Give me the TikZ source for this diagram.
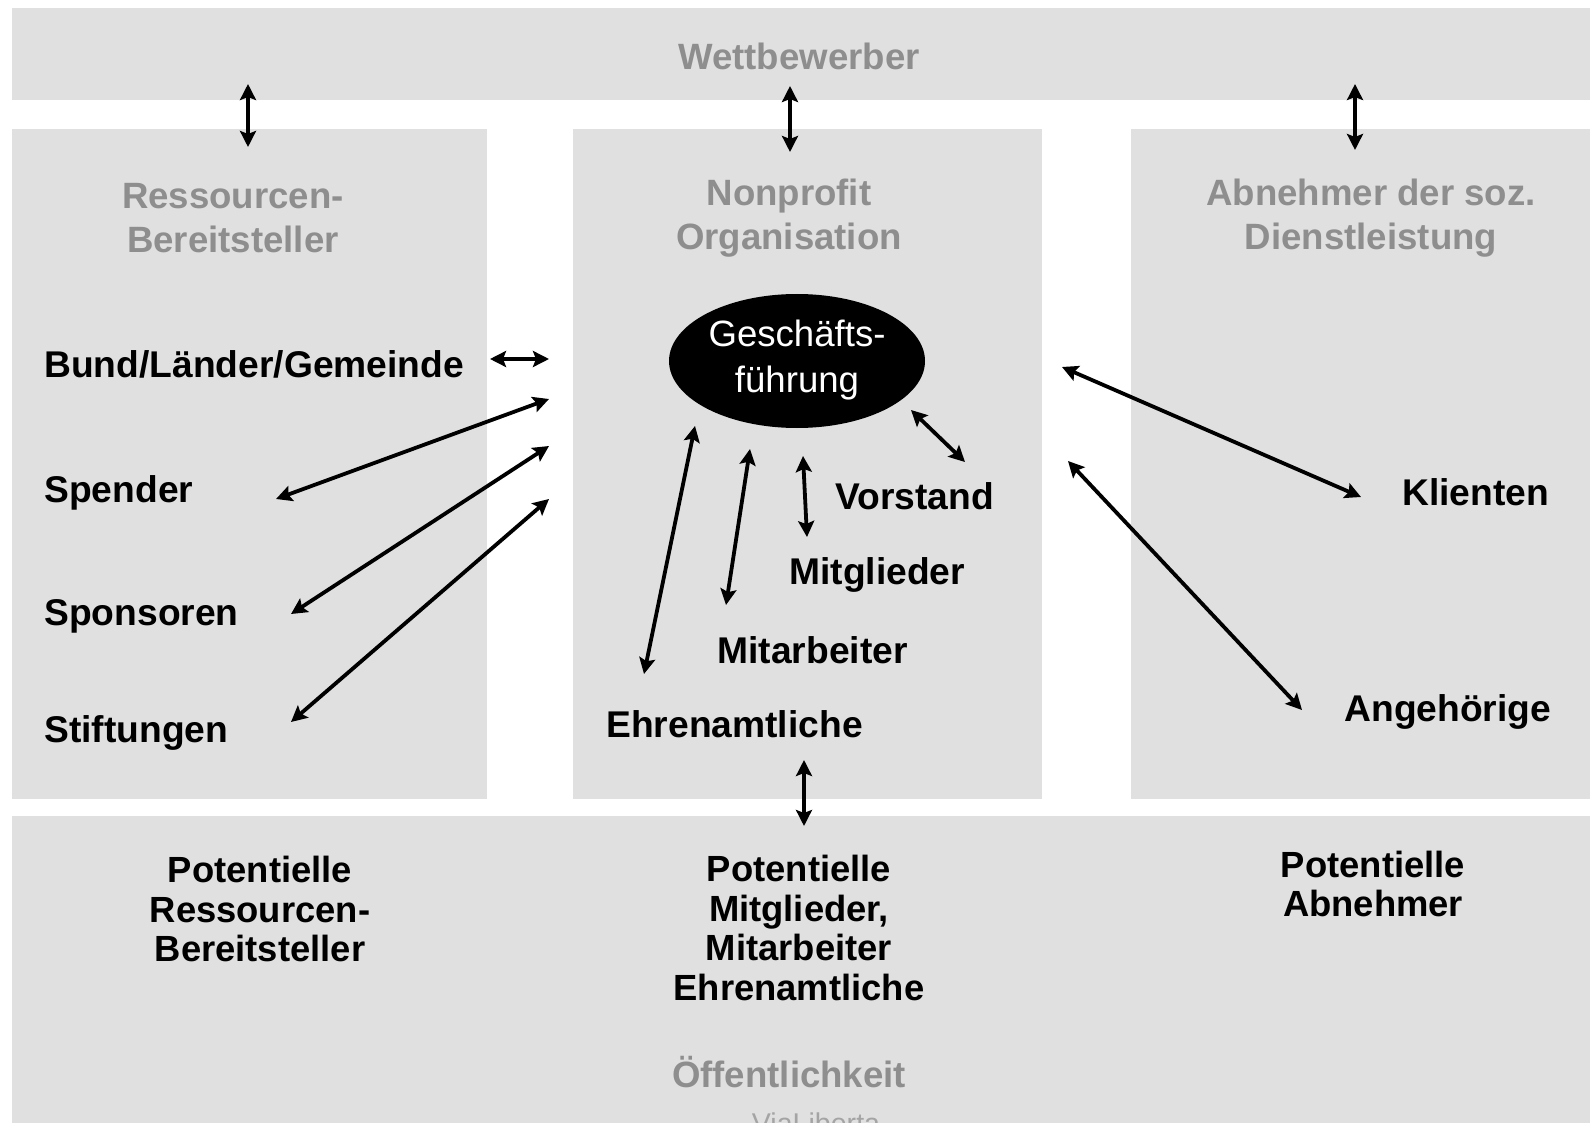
\documentclass[tikz,border=0pt]{standalone}
\usepackage{fontspec}
\setmainfont{Liberation Sans}
\usetikzlibrary{arrows.meta,shapes.geometric}
\definecolor{bgc}{HTML}{E0E0E0}
\definecolor{titlec}{HTML}{8E8E8E}
\newcommand\mylabfont{\fontsize{18.6}{22.5}\selectfont\bfseries}
\newcommand\mytitlefont{\fontsize{18.3}{22.3}\selectfont\bfseries}
\newcommand\myblkfont{\fontsize{18.2}{19.8}\selectfont\bfseries}
\tikzset{
  band/.style={fill=bgc, draw=none},
  ttl/.style={text=titlec, font=\mytitlefont, align=center, inner sep=0pt},
  lab/.style={font=\mylabfont, inner sep=0pt, anchor=base west},
  blk/.style={font=\myblkfont, align=center, inner sep=0pt},
  arr/.style={{Stealth[length=8pt,width=8pt,inset=1.5pt]}-{Stealth[length=8pt,width=8pt,inset=1.5pt]}, line width=1.9pt},
  arrthick/.style={arr, line width=2.3pt}
}
\begin{document}
\begin{tikzpicture}[x=0.5pt,y=-0.5pt]
\useasboundingbox (0,0) rectangle (1590,1123);
\fill[white] (0,0) rectangle (1590,1123);
% bands and boxes
\fill[band] (12,8) rectangle (1590,100);
\fill[band] (12,129) rectangle (487,799);
\fill[band] (573,129) rectangle (1042,799);
\fill[band] (1131,129) rectangle (1590,799);
\fill[band] (12,816) rectangle (1590,1123);
% titles
\node[ttl] (wett) at (799,56) {Wettbewerber};
\node[ttl] (ress) at (233,218) {Ressourcen-\\Bereitsteller};
\node[ttl] (npo) at (789,218) {Nonprofit\\Organisation};
\node[ttl] (abn) at (1371,218) {Abnehmer der soz.\\Dienstleistung};
\node[ttl] (oeff) at (789,1072) {Öffentlichkeit};
% left labels
\node[lab] (bund) at (44,377) {Bund/Länder/Gemeinde};
\node[lab] (spender) at (44,502) {Spender};
\node[lab] (sponsoren) at (44,625) {Sponsoren};
\node[lab] (stiftungen) at (44,742) {Stiftungen};
% middle
\node[ellipse, fill=black, minimum width=128pt, minimum height=67pt, inner sep=0pt] (gf) at (797,361) {};
\node[text=white, font=\fontsize{18.3}{22.8}\selectfont, align=center, inner sep=0pt] (gft) at (797,360) {Geschäfts-\\führung};
\node[lab] (vorstand) at (835,509) {Vorstand};
\node[lab] (mitglieder) at (789,584) {Mitglieder};
\node[lab] (mitarbeiter) at (717,663) {Mitarbeiter};
\node[lab] (ehren) at (606,737) {Ehrenamtliche};
% right
\node[lab] (klienten) at (1402,505) {Klienten};
\node[lab] (angeh) at (1344,721) {Angehörige};
% bottom
\node[blk] (potres) at (260,909) {Potentielle\\Ressourcen-\\Bereitsteller};
\node[blk] (potmit) at (799,928) {Potentielle\\Mitglieder,\\Mitarbeiter\\Ehrenamtliche};
\node[blk] (potabn) at (1373,884) {Potentielle\\Abnehmer};
\node[text=titlec!80, font=\fontsize{14.3}{16}\selectfont, anchor=base, inner sep=0pt] (via) at (816,1133) {ViaLiberta};
% connector end points
\coordinate (t1a) at (248,84);  \coordinate (t1b) at (248,147);
\coordinate (t2a) at (790,86);  \coordinate (t2b) at (790,152);
\coordinate (t3a) at (1355,84); \coordinate (t3b) at (1355,150);
\coordinate (b1a) at (804,760); \coordinate (b1b) at (804,826);
\coordinate (bua) at (490,359); \coordinate (bub) at (549,359);
\coordinate (spa) at (276,499); \coordinate (spb) at (549,399);
\coordinate (soa) at (291,614); \coordinate (sob) at (549,446);
\coordinate (sta) at (291,722); \coordinate (stb) at (549,499);
\coordinate (voa) at (911,410); \coordinate (vob) at (965,462);
\coordinate (mga) at (803,456); \coordinate (mgb) at (807,537);
\coordinate (maa) at (750,449); \coordinate (mab) at (726,605);
\coordinate (eha) at (695,426); \coordinate (ehb) at (644,674);
\coordinate (kla) at (1062,367); \coordinate (klb) at (1361,497);
\coordinate (aga) at (1068,461); \coordinate (agb) at (1302,710);
% connectors
\draw[arrthick] (t1a) -- (t1b);
\draw[arrthick] (t2a) -- (t2b);
\draw[arrthick] (t3a) -- (t3b);
\draw[arrthick] (b1a) -- (b1b);
\draw[arr] (bua) -- (bub);
\draw[arr] (spa) -- (spb);
\draw[arr] (soa) -- (sob);
\draw[arr] (sta) -- (stb);
\draw[arr] (voa) -- (vob);
\draw[arr] (mga) -- (mgb);
\draw[arr] (maa) -- (mab);
\draw[arr] (eha) -- (ehb);
\draw[arr] (kla) -- (klb);
\draw[arr] (aga) -- (agb);
\end{tikzpicture}
\end{document}
